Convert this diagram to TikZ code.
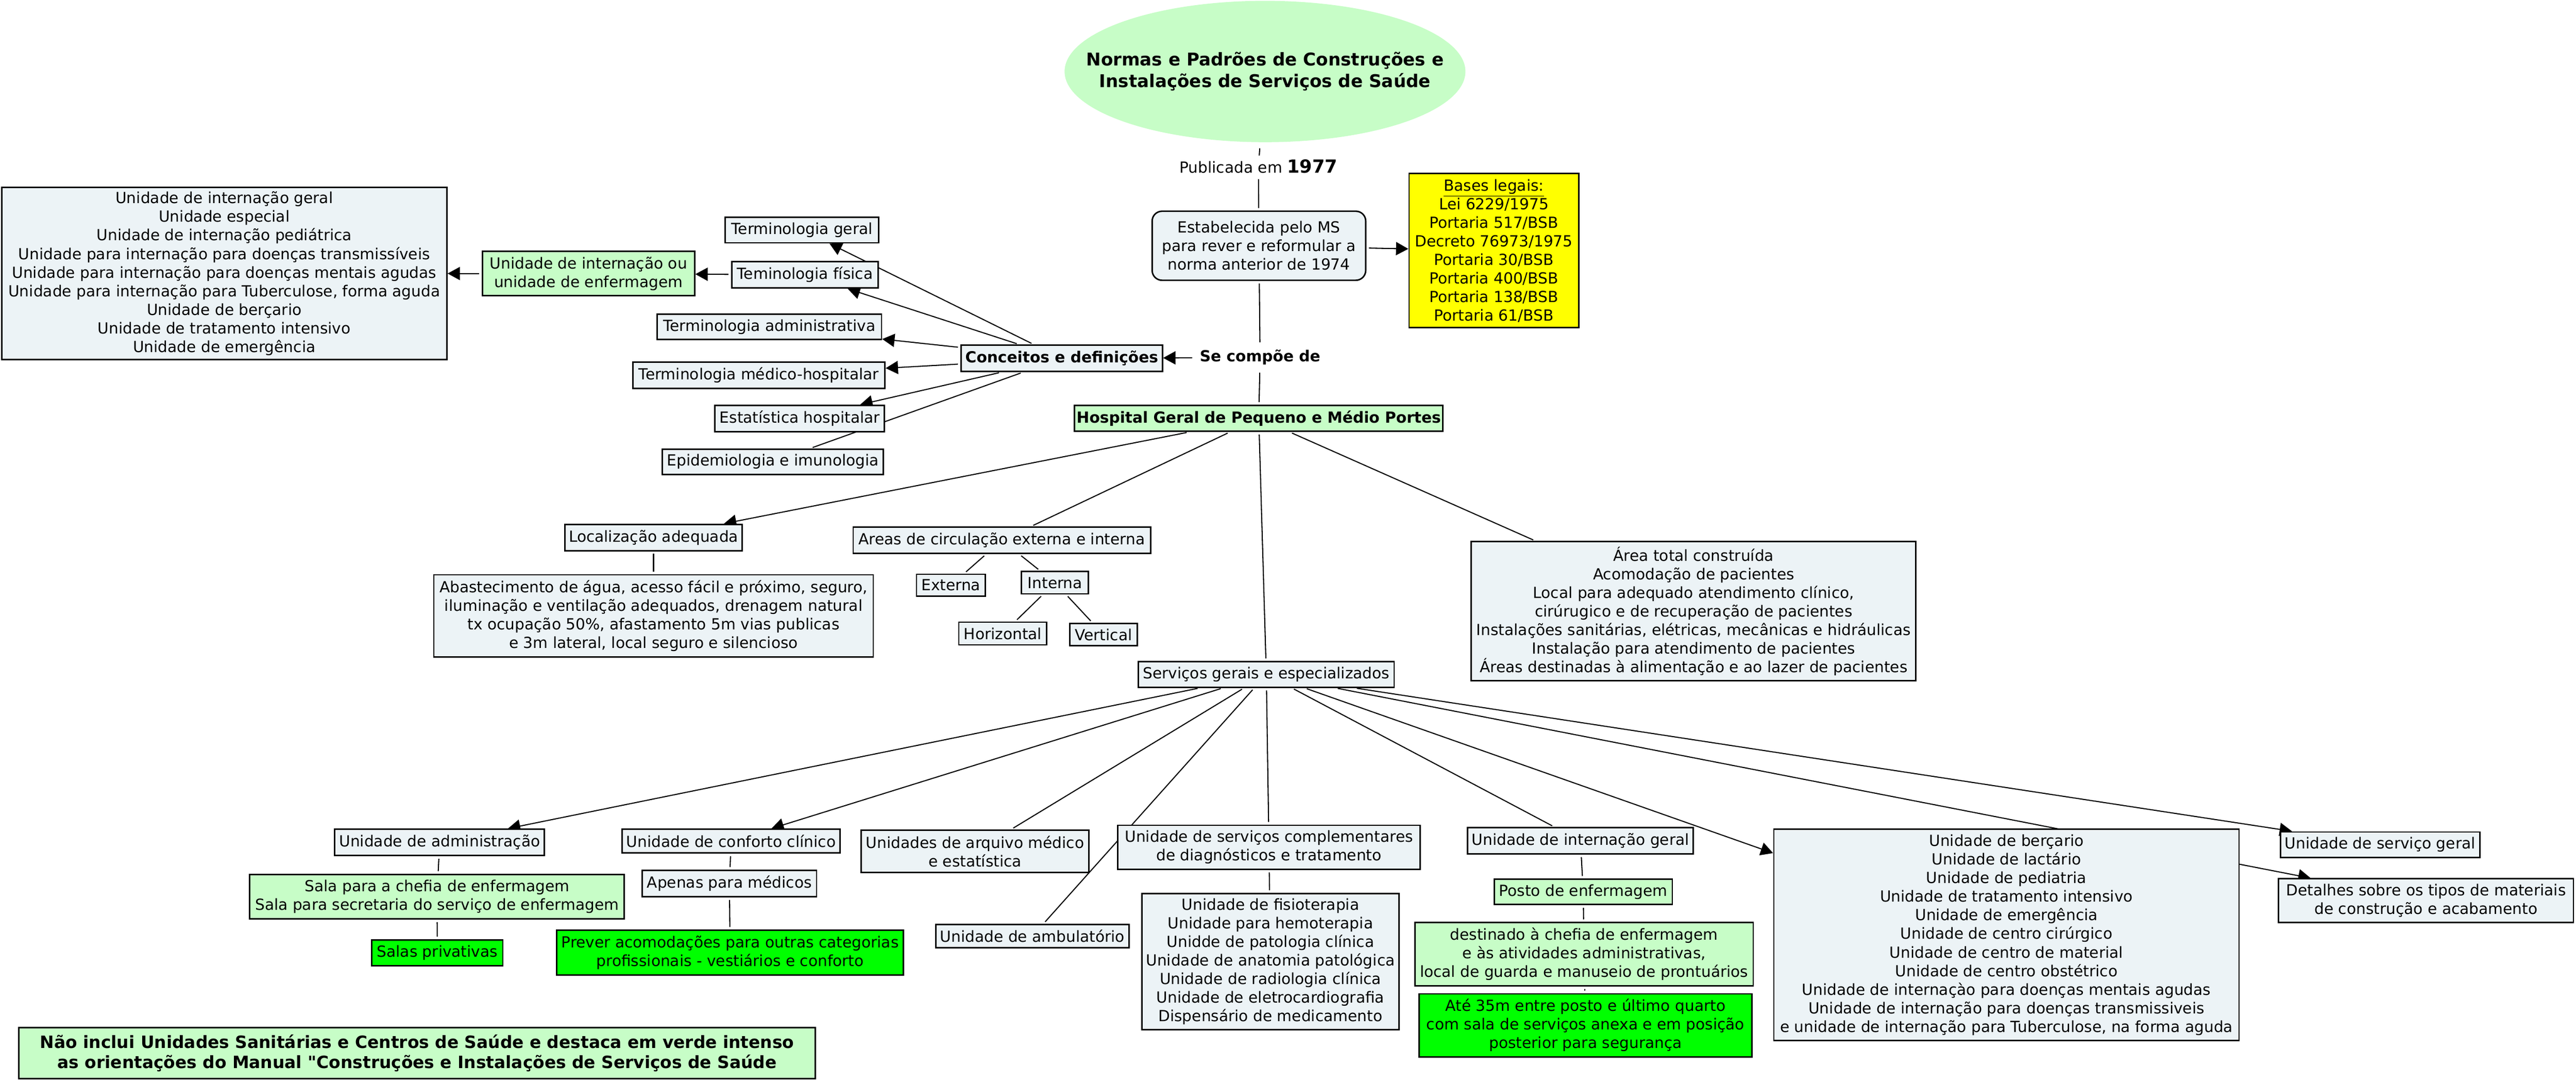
\documentclass[tikz,border=0pt]{standalone}
\usepackage{fontspec}
\setmainfont{DejaVu Sans}
\usetikzlibrary{arrows.meta,backgrounds,shapes.geometric}
\definecolor{cfill}{RGB}{236,243,246}
\definecolor{lgreen}{RGB}{199,253,199}
\definecolor{bgreen}{RGB}{0,255,0}
\definecolor{byellow}{RGB}{255,255,0}
\newcommand{\straightquote}{{\XeTeXglyph\XeTeXcharglyph"22\relax}}
\begin{document}
\begin{tikzpicture}[x=1pt,y=-1pt,
  box/.style={draw=black, line width=0.9pt, fill=cfill, inner sep=0pt, align=center, font=\fontsize{9.3}{11.3}\selectfont},
  bbox/.style={box, font=\fontsize{9.3}{11.3}\selectfont\bfseries},
  gbox/.style={box, fill=lgreen},
  vbox/.style={box, fill=bgreen},
  ybox/.style={box, fill=byellow},
  lbl/.style={inner sep=1pt, align=center, font=\fontsize{9.3}{11.3}\selectfont},
  ln/.style={line width=0.65pt, shorten <=1.5pt, shorten >=1.5pt},
  ar/.style={line width=0.65pt, shorten <=1.5pt, -{Triangle[length=7.5pt,width=8pt]}},
]
\useasboundingbox (0,0) rectangle (1568,657.96);

% ---- top
\node[inner sep=0pt, minimum width=244pt, minimum height=86pt, align=center,
      font=\fontsize{10.7}{13.2}\selectfont\bfseries] (title) at (770,43.5)
      {Normas e Padrões de Construções e\\Instalações de Serviços de Saúde};
\node[lbl, text height=8pt, text depth=1pt] (pub) at (766,101.8)
      {Publicada em {\bfseries\fontsize{11}{13}\selectfont 1977}};
\node[box, rounded corners=6pt, minimum width=130pt, minimum height=42pt] (estab) at (766.3,149.5)
      {Estabelecida pelo MS\\para rever e reformular a\\norma anterior de 1974};
\node[ybox, minimum width=103.2pt, minimum height=93.8pt] (bases) at (909.3,152.5)
      {\underline{Bases legais:}\\Lei 6229/1975\\Portaria 517/BSB\\Decreto 76973/1975\\Portaria 30/BSB\\Portaria 400/BSB\\Portaria 138/BSB\\Portaria 61/BSB};
\node[lbl, font=\fontsize{9.3}{11.3}\selectfont\bfseries, inner sep=3pt, text height=7pt, text depth=2pt] (se) at (767,217.5) {Se compõe de};

% ---- concepts
\node[bbox, minimum width=122.5pt, minimum height=16pt] (conc) at (646.3,218) {Conceitos e definições};
\node[box, minimum width=93.4pt, minimum height=15.6pt] (tg) at (488.2,139.9) {Terminologia geral};
\node[box, minimum width=89.3pt, minimum height=16pt] (tf) at (490,167.2) {Teminologia física};
\node[gbox, minimum width=129.2pt, minimum height=26.9pt] (uig) at (358.2,166.4) {Unidade de internação ou\\unidade de enfermagem};
\node[box, minimum width=271pt, minimum height=104.7pt] (biglist) at (136.5,166.4)
  {Unidade de internação geral\\Unidade especial\\Unidade de internação pediátrica\\Unidade para internação para doenças transmissíveis\\Unidade para internação para doenças mentais agudas\\Unidade para internação para Tuberculose, forma aguda\\Unidade de berçario\\Unidade de tratamento intensivo\\Unidade de emergência};
\node[box, minimum width=136.5pt, minimum height=15.4pt] (tadm) at (468.3,198.9) {Terminologia administrativa};
\node[box, minimum width=153.5pt, minimum height=15.9pt] (tmed) at (461.9,228.3) {Terminologia médico-hospitalar};
\node[box, minimum width=103.1pt, minimum height=16pt] (est) at (486.8,254.6) {Estatística hospitalar};
\node[box, minimum width=134.5pt, minimum height=15.4pt] (epi) at (470.5,280.9) {Epidemiologia e imunologia};

% ---- hospital
\node[gbox, font=\fontsize{9.3}{11.3}\selectfont\bfseries, minimum width=224.3pt, minimum height=15.8pt] (hosp) at (766.2,254.5) {Hospital Geral de Pequeno e Médio Portes};
\node[box, minimum width=108.1pt, minimum height=16pt] (loc) at (397.8,327) {Localização adequada};
\node[box, minimum width=267.5pt, minimum height=49.9pt] (abast) at (397.8,374.6)
  {Abastecimento de água, acesso fácil e próximo, seguro,\\iluminação e ventilação adequados, drenagem natural\\tx ocupação 50\%, afastamento 5m vias publicas\\e 3m lateral, local seguro e silencioso};
\node[box, minimum width=181pt, minimum height=16pt] (areas) at (609.8,328.7) {Areas de circulação externa e interna};
\node[box, minimum width=41.8pt, minimum height=13.3pt] (ext) at (578.8,356) {Externa};
\node[box, minimum width=40.8pt, minimum height=13.5pt] (int) at (642.2,354.5) {Interna};
\node[box, minimum width=53.6pt, minimum height=13.8pt] (hor) at (610.4,385.4) {Horizontal};
\node[box, minimum width=41.2pt, minimum height=13.6pt] (ver) at (671.7,386.1) {Vertical};
\node[box, minimum width=270.6pt, minimum height=84.5pt] (area) at (1030.9,371.8)
  {Área total construída\\Acomodação de pacientes\\Local para adequado atendimento clínico,\\cirúrugico e de recuperação de pacientes\\Instalações sanitárias, elétricas, mecânicas e hidráulicas\\Instalação para atendimento de pacientes\\Áreas destinadas à alimentação e ao lazer de pacientes};
\node[box, minimum width=155.6pt, minimum height=15.5pt] (serv) at (770.8,410.3) {Serviços gerais e especializados};

% ---- services row
\node[box, minimum width=127.6pt, minimum height=16pt] (admin) at (267.6,512.5) {Unidade de administração};
\node[gbox, minimum width=227.9pt, minimum height=27.1pt] (sala) at (266,545.5) {Sala para a chefia de enfermagem\\Sala para secretaria do serviço de enfermagem};
\node[vbox, minimum width=79.7pt, minimum height=15.6pt] (salas) at (266.2,579.6) {Salas privativas};
\node[box, minimum width=132.9pt, minimum height=14.4pt] (conf) at (445,511.7) {Unidade de conforto clínico};
\node[box, minimum width=106.1pt, minimum height=16.1pt] (apenas) at (444,537.5) {Apenas para médicos};
\node[vbox, minimum width=211pt, minimum height=27.4pt] (prever) at (444.4,579.6) {Prever acomodações para outras categorias\\profissionais - vestiários e conforto};
\node[box, minimum width=138.5pt, minimum height=25.8pt] (arq) at (593.5,517.9) {Unidades de arquivo médico\\e estatística};
\node[box, minimum width=117.6pt, minimum height=14.3pt] (amb) at (628.4,569.5) {Unidade de ambulatório};
\node[box, minimum width=184.1pt, minimum height=26.7pt] (compl) at (772.4,515.4) {Unidade de serviços complementares\\de diagnósticos e tratamento};
\node[box, minimum width=156.5pt, minimum height=82.9pt] (fisio) at (773.3,585)
  {Unidade de fisioterapia\\Unidade para hemoterapia\\Unidde de patologia clínica\\Unidade de anatomia patológica\\Unidade de radiologia clínica\\Unidade de eletrocardiografia\\Dispensário de medicamento};
\node[box, minimum width=137.5pt, minimum height=15.9pt] (intg) at (962,511.5) {Unidade de internação geral};
\node[gbox, minimum width=108.5pt, minimum height=15.4pt] (posto) at (963.7,542.6) {Posto de enfermagem};
\node[gbox, minimum width=205.9pt, minimum height=38.5pt] (dest) at (964.2,580.5) {destinado à chefia de enfermagem\\e às atividades administrativas,\\local de guarda e manuseio de prontuários};
\node[vbox, minimum width=202.4pt, minimum height=38.4pt] (ate) at (965.1,623.8) {Até 35m entre posto e último quarto\\com sala de serviços anexa e em posição\\posterior para segurança};
\node[box, minimum width=283.2pt, minimum height=128.5pt] (berc) at (1221.3,568.8)
  {Unidade de berçario\\Unidade de lactário\\Unidade de pediatria\\Unidade de tratamento intensivo\\Unidade de emergência\\Unidade de centro cirúrgico\\Unidade de centro de material\\Unidade de centro obstétrico\\Unidade de internaçào para doenças mentais agudas\\Unidade de internação para doenças transmissiveis\\e unidade de internação para Tuberculose, na forma aguda};
\node[box, minimum width=121.4pt, minimum height=15.5pt] (sgeral) at (1448.7,513.9) {Unidade de serviço geral};
\node[box, minimum width=179.4pt, minimum height=26.5pt] (det) at (1476.7,547.9) {Detalhes sobre os tipos de materiais\\de construção e acabamento};

% ---- note
\node[gbox, font=\fontsize{10.3}{12.5}\selectfont\bfseries, minimum width=484.8pt, minimum height=31pt] (note) at (253.9,640.7)
  {Não inclui Unidades Sanitárias e Centros de Saúde e destaca em verde intenso\\as orientações do Manual \straightquote Construções e Instalações de Serviços de Saúde};

% ---- connectors
\begin{scope}[on background layer]
\fill[lgreen] (title.center) ellipse [x radius=122pt, y radius=43pt];
\draw[ln, shorten <=3.5pt] (title) -- (pub);
\draw[ln] (pub) -- (estab);
\draw[ar] (estab) -- (bases);
\draw[ln] (estab) -- (se);
\draw[ar] (se) -- (conc);
\draw[ln] (se) -- (hosp);
\draw[ar] (conc) -- (tg);
\draw[ar] (conc) -- (tf);
\draw[ar] (conc) -- (tadm);
\draw[ar] (conc) -- (tmed);
\draw[ar] (conc) -- (est);
\draw[ln] (conc) -- (epi);
\draw[ar] (tf) -- (uig);
\draw[ar] (uig) -- (biglist);
\draw[ar] (hosp) -- (loc);
\draw[ln] (loc) -- (abast);
\draw[ln] (hosp) -- (areas);
\draw[ln] (areas) -- (ext);
\draw[ln] (areas) -- (int);
\draw[ln] (int) -- (hor);
\draw[ln] (int) -- (ver);
\draw[ln] (hosp) -- (area);
\draw[ln] (hosp) -- (serv);
\draw[ar] (serv) -- (admin);
\draw[ar] (serv) -- (conf);
\draw[ln] (serv) -- (arq);
\draw[ln] (serv) -- (amb);
\draw[ln] (serv) -- (compl);
\draw[ln] (serv) -- (intg);
\draw[ar] (serv) -- (berc);
\draw[ar] (serv) -- (det);
\draw[ar] (serv) -- (sgeral);
\draw[ln] (admin) -- (sala);
\draw[ln] (sala) -- (salas);
\draw[ln] (conf) -- (apenas);
\draw[ln] (apenas) -- (prever);
\draw[ln] (compl) -- (fisio);
\draw[ln] (intg) -- (posto);
\draw[ln] (posto) -- (dest);
\draw[ln] (dest) -- (ate);
\end{scope}
\end{tikzpicture}
\end{document}
